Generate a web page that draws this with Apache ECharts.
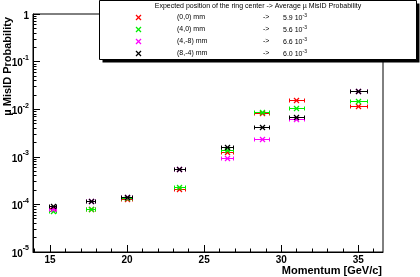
<!DOCTYPE html>
<html><head><meta charset="utf-8">
<script src="https://cdn.jsdelivr.net/npm/echarts@6/dist/echarts.min.js"></script>
<style>html,body{margin:0;padding:0;background:#fff}#c{width:420px;height:277px}</style>
</head><body><div id="c"></div>
<script>
// ---- data ----
const momentum    = [15.17, 17.65, 19.98, 23.4, 26.5, 28.73, 30.98, 35.0];
const momentumErr = [0.25, 0.3, 0.35, 0.35, 0.38, 0.48, 0.48, 0.56];
const prob_0_0   = [8.6e-5, 8.1e-5, 1.3e-4, 2.1e-4, 1.27e-3, 8.5e-3, 1.53e-2, 1.19e-2];
const prob_4_0   = [7.4e-5, 8.1e-5, 1.35e-4, 2.3e-4, 1.4e-3, 8.7e-3, 1.07e-2, 1.5e-2];
const prob_4_m8  = [7.9e-5, 1.17e-4, 1.4e-4, 5.6e-4, 9.5e-4, 2.4e-3, 6.3e-3, 2.45e-2];
const prob_8_m4  = [9.3e-5, 1.17e-4, 1.43e-4, 5.6e-4, 1.6e-3, 4.2e-3, 6.9e-3, 2.45e-2];
const seriesNames = ['(0,0) mm', '(4,0) mm', '(4,-8) mm', '(8,-4) mm'];
const seriesColors = ['#ff0000', '#00ee00', '#ff00ff', '#000000'];
const avgMantissa = ['5.9', '5.6', '6.6', '6.0'];
const avgExponent = ['-3', '-3', '-3', '-3'];
const legendTitle = 'Expected position of the ring center -> Average \u00b5 MisID Probability';
const xTitle = 'Momentum [GeV/c]';
const yTitle = '\u00b5 MisID Probability';
const xMajorTicks = [15, 20, 25, 30, 35];
const xMinorTicks = [14, 16, 17, 18, 19, 21, 22, 23, 24, 26, 27, 28, 29, 31, 32, 33, 34, 36];
const yDecades = [-5, -4, -3, -2, -1, 0];

const allSeries = [prob_0_0, prob_4_0, prob_4_m8, prob_8_m4];
const yMinorTicks = [];
for (let d = -5; d < 0; d++) for (let k = 2; k <= 9; k++) yMinorTicks.push(k * Math.pow(10, d));
const yMajorTicks = yDecades.map(d => Math.pow(10, d));

const FONT = '"Liberation Sans", Arial, Helvetica, sans-serif';

function renderErr(color) {
  return function (params, api) {
    const x = api.value(0), y = api.value(1), e = api.value(2);
    const c = api.coord([x, y]);
    const l = api.coord([x - e, y]);
    const r = api.coord([x + e, y]);
    const cy = Math.round(c[1]) + 0.5;
    const cx = Math.round(c[0]) + 0.5;
    const lx = Math.round(l[0]) + 0.5, rx = Math.round(r[0]) + 0.5;
    const s = 2.5, cap = 2;
    const st = { stroke: color, lineWidth: 1, fill: null };
    return {
      type: 'group', children: [
        { type: 'line', shape: { x1: lx, y1: cy, x2: rx, y2: cy }, style: st },
        { type: 'line', shape: { x1: lx, y1: cy - cap, x2: lx, y2: cy + cap }, style: st },
        { type: 'line', shape: { x1: rx, y1: cy - cap, x2: rx, y2: cy + cap }, style: st },
        { type: 'line', shape: { x1: cx - s, y1: cy - s, x2: cx + s, y2: cy + s }, style: { stroke: color, lineWidth: 1.3 } },
        { type: 'line', shape: { x1: cx - s, y1: cy + s, x2: cx + s, y2: cy - s }, style: { stroke: color, lineWidth: 1.3 } }
      ]
    };
  };
}

const series = allSeries.map((vals, i) => ({
  type: 'custom',
  name: seriesNames[i],
  xAxisIndex: 0, yAxisIndex: 0,
  renderItem: renderErr(seriesColors[i]),
  encode: { x: 0, y: 1 },
  data: vals.map((v, j) => [momentum[j], v, momentumErr[j]]),
  z: 10 + i,
  silent: true
}));

// legend graphic
const LX0 = 99.5, LX1 = 416.5, LY0 = 0.5, LY1 = 59.5;
const legendEls = [
  { type: 'rect', shape: { x: LX0 + 3, y: LY0 + 3, width: LX1 - LX0, height: LY1 - LY0 }, style: { fill: '#000' }, z: 100 },
  { type: 'rect', shape: { x: LX0, y: LY0, width: LX1 - LX0, height: LY1 - LY0 }, style: { fill: '#fff', stroke: '#000', lineWidth: 1 }, z: 101 },
  { type: 'text', x: 258, y: 6.5, z: 102, style: { text: legendTitle, font: '7px ' + FONT, fill: '#000', align: 'center', verticalAlign: 'middle' } }
];
seriesNames.forEach((n, i) => {
  const y = 17.5 + 12 * i;
  const cx = 138.5, s = 2.5;
  legendEls.push(
    { type: 'line', z: 102, shape: { x1: cx - s, y1: y - s, x2: cx + s, y2: y + s }, style: { stroke: seriesColors[i], lineWidth: 1.3 } },
    { type: 'line', z: 102, shape: { x1: cx - s, y1: y + s, x2: cx + s, y2: y - s }, style: { stroke: seriesColors[i], lineWidth: 1.3 } },
    { type: 'text', x: 177, y: y, z: 102, style: { text: n, font: '7px ' + FONT, fill: '#000', align: 'left', verticalAlign: 'middle' } },
    { type: 'text', x: 263, y: y, z: 102, style: { text: '->', font: '7px ' + FONT, fill: '#000', align: 'left', verticalAlign: 'middle' } },
    { type: 'text', x: 283, y: y, z: 102, style: {
        text: '{m|' + avgMantissa[i] + ' 10}{e|' + avgExponent[i] + '}',
        align: 'left', verticalAlign: 'middle',
        rich: { m: { font: '7px ' + FONT, fill: '#000', lineHeight: 9, verticalAlign: 'bottom' },
                e: { font: '5px ' + FONT, fill: '#000', verticalAlign: 'top', lineHeight: 9 } } } }
  );
});

const option = {
  animation: false,
  backgroundColor: '#fff',
  grid: { left: 33, right: 37, top: 14, bottom: 25, show: true, borderColor: '#000', borderWidth: 1, backgroundColor: 'transparent' },
  xAxis: [
    {
      type: 'value', min: 13.9, max: 36.6,
      axisLine: { show: true, lineStyle: { color: '#000', width: 1 } },
      axisTick: { show: true, inside: true, length: 7, lineStyle: { color: '#000' }, customValues: xMajorTicks },
      axisLabel: { show: true, customValues: xMajorTicks, margin: 3, color: '#000', fontFamily: FONT, fontWeight: 'bold', fontSize: 10 },
      splitLine: { show: false }
    },
    {
      type: 'value', min: 13.9, max: 36.6, position: 'bottom',
      axisLine: { show: false },
      axisTick: { show: true, inside: true, length: 3.5, lineStyle: { color: '#000' }, customValues: xMinorTicks },
      axisLabel: { show: false },
      splitLine: { show: false }
    }
  ],
  yAxis: [
    {
      type: 'log', logBase: 10, min: 1e-5, max: 1,
      axisLine: { show: true, lineStyle: { color: '#000', width: 1 } },
      axisTick: { show: true, inside: true, length: 7, lineStyle: { color: '#000' }, customValues: yMajorTicks },
      axisLabel: {
        show: true, customValues: yMajorTicks, margin: 4, color: '#000',
        formatter: function (v) {
          const e = Math.round(Math.log10(v));
          if (e === 0) return '{b|1}';
          return '{b|10}{s|' + e + '}';
        },
        rich: {
          b: { fontFamily: FONT, fontWeight: 'bold', fontSize: 10, lineHeight: 14, verticalAlign: 'bottom', color: '#000' },
          s: { fontFamily: FONT, fontWeight: 'bold', fontSize: 7, lineHeight: 14, verticalAlign: 'top', color: '#000' }
        }
      },
      splitLine: { show: false }
    },
    {
      type: 'log', logBase: 10, min: 1e-5, max: 1, position: 'left',
      axisLine: { show: false },
      axisTick: { show: true, inside: true, length: 3.5, lineStyle: { color: '#000' }, customValues: yMinorTicks },
      axisLabel: { show: false },
      splitLine: { show: false }
    }
  ],
  series: series,
  graphic: [
    { type: 'text', x: 382, y: 271, z: 50, style: { text: xTitle, font: 'bold 11px ' + FONT, fill: '#000', align: 'right', verticalAlign: 'middle' } },
    { type: 'text', x: 8, y: 17, rotation: Math.PI / 2, z: 50, style: { text: yTitle, font: 'bold 11px ' + FONT, fill: '#000', align: 'right', verticalAlign: 'middle' } }
  ].concat(legendEls)
};

const chart = echarts.init(document.getElementById('c'), null, { renderer: 'canvas' });
chart.setOption(option);
</script>
</body></html>
